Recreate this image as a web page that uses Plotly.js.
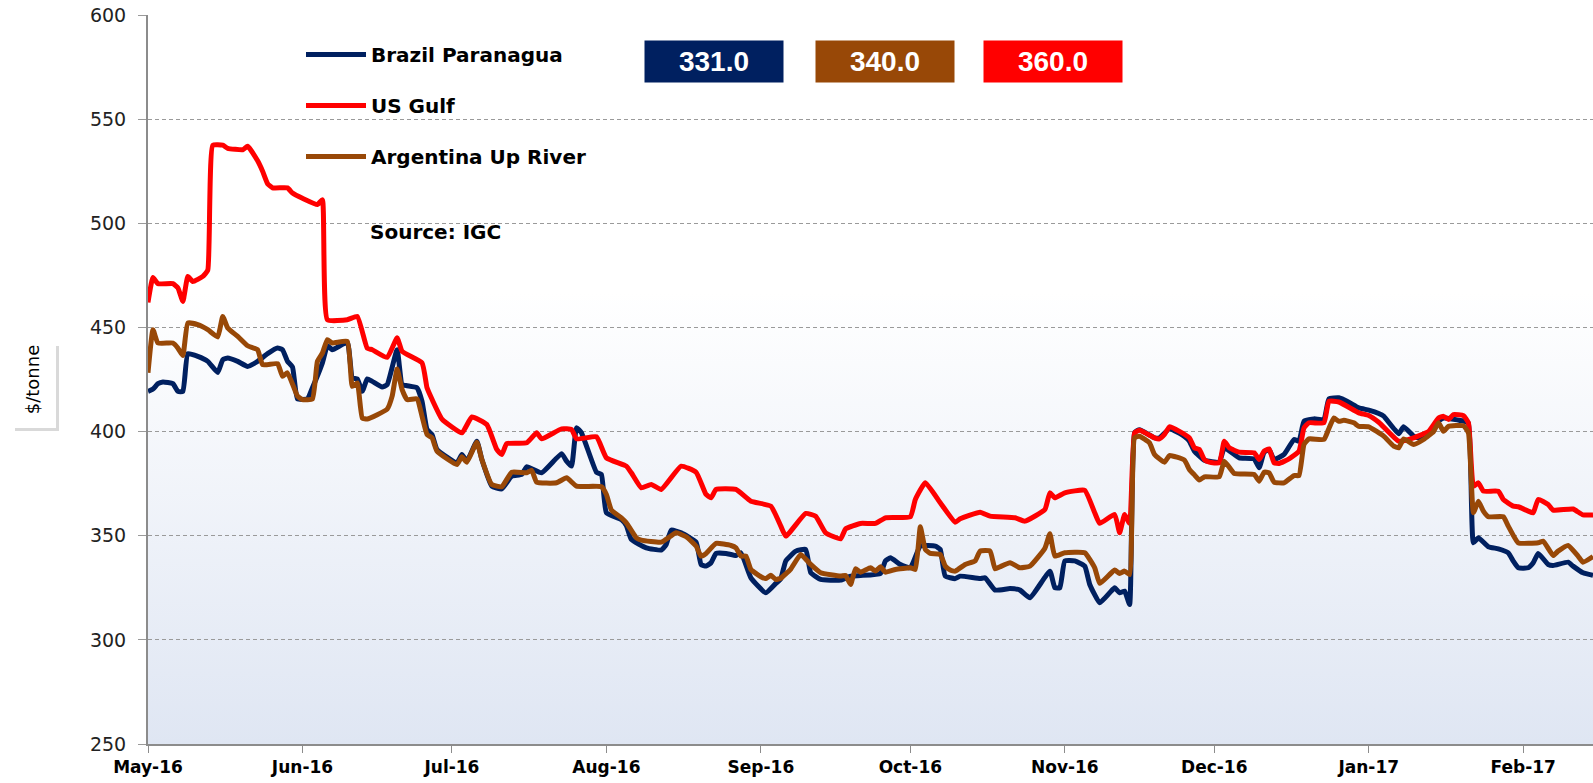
<!DOCTYPE html>
<html><head><meta charset="utf-8">
<script src="https://cdn.plot.ly/plotly-3.0.1.min.js"></script>
<style>
html,body{margin:0;padding:0;background:#fff;}
#wrap{position:relative;width:1593px;height:783px;overflow:hidden;}
#bg{position:absolute;left:148px;top:15px;width:1445px;height:729px;background:linear-gradient(to bottom,#ffffff 0%,#ffffff 38%,#dfe6f3 100%);}
#chart{position:absolute;left:0;top:0;width:1593px;height:783px;}
</style></head><body>
<div id="wrap"><div id="bg"></div><div id="chart"></div></div>
<script>
const seriesNames = ['Brazil Paranagua', 'US Gulf', 'Argentina Up River'];
const seriesColors = ['#002060', '#FF0000', '#984807'];

const brazilDates = ['2016-05-01','2016-05-02','2016-05-03','2016-05-04','2016-05-06','2016-05-07','2016-05-08','2016-05-09','2016-05-11','2016-05-13','2016-05-15','2016-05-16','2016-05-17','2016-05-19','2016-05-21','2016-05-23','2016-05-25','2016-05-27','2016-05-28','2016-05-29','2016-05-30','2016-05-31','2016-06-02','2016-06-03','2016-06-05','2016-06-06','2016-06-07','2016-06-10','2016-06-11','2016-06-12','2016-06-13','2016-06-14','2016-06-15','2016-06-17','2016-06-18','2016-06-20','2016-06-21','2016-06-22','2016-06-24','2016-06-25','2016-06-26','2016-06-27','2016-06-28','2016-07-02','2016-07-03','2016-07-04','2016-07-06','2016-07-07','2016-07-09','2016-07-11','2016-07-13','2016-07-15','2016-07-16','2016-07-19','2016-07-23','2016-07-24','2016-07-25','2016-07-26','2016-07-27','2016-07-30','2016-07-31','2016-08-01','2016-08-04','2016-08-05','2016-08-06','2016-08-09','2016-08-12','2016-08-13','2016-08-14','2016-08-16','2016-08-19','2016-08-20','2016-08-21','2016-08-22','2016-08-23','2016-08-25','2016-08-27','2016-08-28','2016-08-30','2016-09-02','2016-09-04','2016-09-05','2016-09-06','2016-09-08','2016-09-10','2016-09-11','2016-09-13','2016-09-17','2016-09-19','2016-09-21','2016-09-25','2016-09-26','2016-09-27','2016-09-29','2016-10-01','2016-10-03','2016-10-06','2016-10-07','2016-10-08','2016-10-10','2016-10-11','2016-10-15','2016-10-16','2016-10-18','2016-10-21','2016-10-23','2016-10-25','2016-10-29','2016-10-30','2016-10-31','2016-11-01','2016-11-03','2016-11-05','2016-11-06','2016-11-08','2016-11-10','2016-11-11','2016-11-12','2016-11-13','2016-11-14','2016-11-15','2016-11-16','2016-11-19','2016-11-20','2016-11-22','2016-11-25','2016-11-26','2016-11-27','2016-11-29','2016-12-02','2016-12-03','2016-12-05','2016-12-06','2016-12-09','2016-12-10','2016-12-11','2016-12-12','2016-12-13','2016-12-15','2016-12-17','2016-12-18','2016-12-19','2016-12-21','2016-12-23','2016-12-24','2016-12-26','2016-12-28','2016-12-30','2017-01-01','2017-01-03','2017-01-04','2017-01-07','2017-01-08','2017-01-10','2017-01-11','2017-01-13','2017-01-15','2017-01-16','2017-01-20','2017-01-21','2017-01-22','2017-01-23','2017-01-25','2017-01-27','2017-01-29','2017-01-30','2017-01-31','2017-02-02','2017-02-03','2017-02-04','2017-02-06','2017-02-07','2017-02-10','2017-02-11','2017-02-13','2017-02-15'];
const brazilPrices = [419.3,420.4,423,423.8,423,419.3,419.3,437.4,436.1,433.7,428.4,434.5,435.3,433.7,431.3,433.7,437.4,440.1,439.3,433.7,431,415.7,415.7,421,433,441.2,439.3,442.8,425.8,425.3,419.3,425.3,424.1,421.4,422.5,439.3,422.5,422,421,414.5,401,398.6,391.4,385,389,385.8,395.4,386.6,373.8,372.5,378.6,379.4,383.1,380.2,389.4,385.8,383.4,401.8,399.4,380.5,379.4,361,357.8,354.9,348.2,344.2,343.1,345.8,352.7,351.4,346.9,336.2,335.4,337,341.5,341.5,340.5,341.8,329.8,322.6,327.1,329.4,337.9,342.6,343.4,332.3,329,328.7,330.6,330.9,331.9,337.9,339.4,336.2,334.6,345,345,343.4,330.6,329.4,330.6,329.4,329.8,323.9,324.6,323.9,320.2,333,325,325,337.9,337.9,335.4,326.6,317.8,322.6,325,322.6,323.4,317,399.5,400.9,397,397,401.3,397.7,395.4,390.6,386.3,385.3,392.2,389,387.4,386.9,382.6,390.1,391.4,386.6,389,396.2,395.4,405,406.1,405.8,415.7,416.2,414.1,411.4,410.3,408.7,407.4,399,402.3,397.8,397,399.4,405,406.5,405,404,346.6,349,344.7,343.7,341.8,337.8,334.6,334.6,337,341.5,336.2,335.7,337.3,335.4,332.2,331];

const usGulfDates = ['2016-05-01','2016-05-02','2016-05-03','2016-05-06','2016-05-07','2016-05-08','2016-05-09','2016-05-10','2016-05-12','2016-05-13','2016-05-14','2016-05-16','2016-05-17','2016-05-20','2016-05-21','2016-05-23','2016-05-24','2016-05-25','2016-05-26','2016-05-29','2016-05-30','2016-06-01','2016-06-04','2016-06-05','2016-06-06','2016-06-10','2016-06-12','2016-06-14','2016-06-15','2016-06-18','2016-06-20','2016-06-21','2016-06-25','2016-06-26','2016-06-27','2016-06-29','2016-07-03','2016-07-05','2016-07-08','2016-07-10','2016-07-11','2016-07-12','2016-07-16','2016-07-18','2016-07-19','2016-07-23','2016-07-25','2016-07-26','2016-07-30','2016-08-01','2016-08-05','2016-08-06','2016-08-08','2016-08-10','2016-08-12','2016-08-16','2016-08-19','2016-08-21','2016-08-22','2016-08-23','2016-08-27','2016-08-30','2016-09-03','2016-09-05','2016-09-06','2016-09-10','2016-09-12','2016-09-14','2016-09-17','2016-09-18','2016-09-21','2016-09-24','2016-09-26','2016-10-01','2016-10-02','2016-10-04','2016-10-07','2016-10-10','2016-10-11','2016-10-15','2016-10-17','2016-10-22','2016-10-24','2016-10-28','2016-10-29','2016-10-30','2016-11-01','2016-11-05','2016-11-07','2016-11-08','2016-11-11','2016-11-12','2016-11-13','2016-11-14','2016-11-15','2016-11-16','2016-11-19','2016-11-20','2016-11-21','2016-11-22','2016-11-24','2016-11-26','2016-11-27','2016-11-28','2016-11-29','2016-11-30','2016-12-02','2016-12-03','2016-12-04','2016-12-06','2016-12-09','2016-12-10','2016-12-11','2016-12-12','2016-12-13','2016-12-14','2016-12-16','2016-12-18','2016-12-19','2016-12-20','2016-12-23','2016-12-24','2016-12-26','2016-12-30','2017-01-01','2017-01-03','2017-01-07','2017-01-10','2017-01-13','2017-01-15','2017-01-16','2017-01-17','2017-01-18','2017-01-20','2017-01-21','2017-01-22','2017-01-23','2017-01-24','2017-01-27','2017-01-28','2017-01-30','2017-01-31','2017-02-02','2017-02-03','2017-02-04','2017-02-06','2017-02-07','2017-02-11','2017-02-13','2017-02-15'];
const usGulfPrices = [462,474,471,471,469,462.5,474.5,472,474.5,477.5,537.5,537.5,536,535.3,537,530,525,519,517,517,514.5,512,509,511.3,453.7,453.7,455.3,440,439.3,435.6,445,438.5,433,421,415.5,406,399.4,407,403.4,391.4,389,394.2,394.6,399.4,396.5,401.3,401,396.5,397.5,387.4,383.4,380.2,373,374.6,372.2,383.4,380.5,369.8,368.2,372.2,372.2,366.6,364.2,354.6,349.8,360.7,359.4,351.4,348.5,353.3,355.9,355.9,358.6,359.1,367.4,375.4,365.8,356.5,358.1,361.3,359.4,358.6,357,362.6,370.6,368.2,370.6,371.8,361,355.9,360.2,351.4,360.2,355.9,399.4,400.6,397,396.5,398.6,402.3,400.1,397,392.2,391.4,386.6,385.3,385,395.4,392.2,390.1,389.8,386.6,390.6,391.7,385,384.7,386.9,390.6,401.8,404.2,404.2,414.5,414.2,409,407.7,404.5,395.4,397,400.1,406.5,407.3,405.8,408.2,407.7,404.2,373.8,375.4,371.4,371.4,367.4,364.2,363.9,361.8,361,367.4,365,362.3,362.8,360,360];

const argentinaDates = ['2016-05-01','2016-05-02','2016-05-03','2016-05-06','2016-05-07','2016-05-08','2016-05-09','2016-05-11','2016-05-13','2016-05-15','2016-05-16','2016-05-17','2016-05-19','2016-05-21','2016-05-23','2016-05-24','2016-05-27','2016-05-28','2016-05-29','2016-05-31','2016-06-01','2016-06-03','2016-06-04','2016-06-05','2016-06-06','2016-06-07','2016-06-10','2016-06-11','2016-06-12','2016-06-13','2016-06-14','2016-06-18','2016-06-19','2016-06-20','2016-06-21','2016-06-22','2016-06-24','2016-06-25','2016-06-26','2016-06-27','2016-06-28','2016-07-02','2016-07-03','2016-07-04','2016-07-06','2016-07-07','2016-07-09','2016-07-11','2016-07-13','2016-07-16','2016-07-17','2016-07-18','2016-07-22','2016-07-24','2016-07-26','2016-07-31','2016-08-01','2016-08-02','2016-08-04','2016-08-05','2016-08-07','2016-08-08','2016-08-12','2016-08-15','2016-08-17','2016-08-19','2016-08-20','2016-08-21','2016-08-23','2016-08-26','2016-08-27','2016-08-28','2016-08-29','2016-08-30','2016-09-01','2016-09-02','2016-09-03','2016-09-04','2016-09-05','2016-09-07','2016-09-09','2016-09-11','2016-09-13','2016-09-17','2016-09-18','2016-09-19','2016-09-20','2016-09-21','2016-09-23','2016-09-24','2016-09-25','2016-09-26','2016-09-28','2016-10-01','2016-10-02','2016-10-03','2016-10-04','2016-10-05','2016-10-07','2016-10-08','2016-10-09','2016-10-10','2016-10-12','2016-10-14','2016-10-15','2016-10-17','2016-10-18','2016-10-19','2016-10-21','2016-10-23','2016-10-25','2016-10-28','2016-10-29','2016-10-30','2016-11-01','2016-11-05','2016-11-07','2016-11-08','2016-11-11','2016-11-12','2016-11-13','2016-11-14','2016-11-15','2016-11-16','2016-11-18','2016-11-19','2016-11-21','2016-11-22','2016-11-25','2016-11-26','2016-11-27','2016-11-28','2016-11-29','2016-12-02','2016-12-03','2016-12-05','2016-12-09','2016-12-10','2016-12-11','2016-12-12','2016-12-13','2016-12-15','2016-12-17','2016-12-18','2016-12-19','2016-12-20','2016-12-23','2016-12-24','2016-12-25','2016-12-26','2016-12-27','2016-12-29','2016-12-30','2017-01-01','2017-01-04','2017-01-06','2017-01-07','2017-01-08','2017-01-10','2017-01-12','2017-01-14','2017-01-15','2017-01-16','2017-01-17','2017-01-20','2017-01-21','2017-01-22','2017-01-23','2017-01-24','2017-01-25','2017-01-28','2017-01-29','2017-01-31','2017-02-04','2017-02-05','2017-02-07','2017-02-08','2017-02-10','2017-02-12','2017-02-13','2017-02-15'];
const argentinaPrices = [428.2,448.9,442.5,442.5,440.1,436.5,452.1,451.3,448.9,445.4,455.3,449.7,445.7,441.2,439.3,432.1,432.6,426.5,428.2,417,415.3,415.7,433.7,437.7,444.1,442.5,443.3,421.7,423.4,406.5,406,410.8,417,430,420.1,415.3,415.7,407.3,398.6,397,390.6,384.2,387.9,385.3,394.9,386.6,374.6,373.5,380.5,380.2,381.4,375.7,375.4,377.8,373.8,373.5,369.8,362.3,358.6,356.2,349,347.9,346.9,351.4,349.5,345,340.2,341.5,346.3,345.3,344.2,340.2,340.2,333.8,330.3,329.4,331,329,329.6,334,341,336.2,332.2,330.6,330.9,326.6,334.1,332.5,334.6,333,335.1,332.5,333.8,334.6,333.8,354.3,343.4,341.5,341,335.4,333.5,333,336.2,337.9,342.6,342.6,334.1,335.1,337,334.6,335.4,344,351,340.2,341.8,341.8,334.6,327.1,333.5,331.9,333,331.4,397,397.8,394.6,389,385.3,388.5,386.3,381.8,379.2,376.7,378.3,378.3,385.8,379.9,379.4,376.2,380.5,380.2,375.7,375.4,378.9,378.9,393.8,396.5,396.2,401.5,406.5,404.9,405.4,404.2,402.5,402.3,397.8,393,392.2,396.5,393.8,396.2,400,404.2,400.1,402.5,402.8,399.4,361,366.6,361.8,359.1,359.1,354.6,346.6,346.6,347.4,340.5,342.6,345.3,340.2,337.3,340];

const yTickValues = [250, 300, 350, 400, 450, 500, 550, 600];
const xRange = ['2016-05-01', '2017-02-15'];
const yAxisTitle = '$/tonne';
const sourceText = 'Source: IGC';

const allDates = [brazilDates, usGulfDates, argentinaDates];
const allPrices = [brazilPrices, usGulfPrices, argentinaPrices];

const traces = seriesNames.map((name, i) => ({
  type: 'scatter', mode: 'lines', name: name,
  x: allDates[i], y: allPrices[i],
  line: {color: seriesColors[i], width: 5, shape: 'spline', smoothing: 0.4},
  legendgroup: 'g' + i,
  hoverinfo: 'skip'
}));

const W = 1593, H = 783, ML = 148, MR = 0, MT = 15, MB = 39;
const PW = W - ML - MR, PH = H - MT - MB;
const px = x => (x - ML) / PW;
const py = y => (H - MB - y) / PH;

// value boxes in the picture, left to right: Brazil, Argentina, US Gulf
const boxOrder = [0, 2, 1];
const boxCenters = [714, 884.5, 1053];
const valueAnnotations = boxOrder.map((s, k) => {
  const arr = allPrices[s];
  return {
    xref: 'paper', yref: 'paper', x: px(boxCenters[k]), y: py(61),
    xanchor: 'center', yanchor: 'middle', showarrow: false,
    text: arr[arr.length - 1].toFixed(1),
    font: {family: 'Liberation Sans, Arial, sans-serif', size: 28, color: '#ffffff', weight: 'bold'},
    bgcolor: seriesColors[s], width: 132, height: 35, borderpad: 3
  };
});

const layout = {
  width: W, height: H,
  margin: {l: ML, r: MR, t: MT, b: MB, pad: 0},
  paper_bgcolor: 'rgba(0,0,0,0)', plot_bgcolor: 'rgba(0,0,0,0)',
  showlegend: true,
  legend: {
    x: px(301), xanchor: 'left', y: py(35), yanchor: 'top',
    bgcolor: 'rgba(0,0,0,0)', borderwidth: 0,
    font: {family: 'DejaVu Sans, sans-serif', size: 20, color: '#000', weight: 'bold'},
    tracegroupgap: 22, itemwidth: 60, traceorder: 'grouped'
  },
  xaxis: {
    type: 'date', range: xRange, autorange: false,
    tick0: '2016-05-01', dtick: 'M1', tickformat: '%b-%y',
    ticks: 'outside', ticklen: 7, tickwidth: 1, tickcolor: '#8c8c8c',
    showline: true, linecolor: '#8c8c8c', linewidth: 2,
    showgrid: false, zeroline: false,
    tickfont: {family: 'DejaVu Sans, sans-serif', size: 17, color: '#000', weight: 'bold'}
  },
  yaxis: {
    range: [250, 600], autorange: false, tickvals: yTickValues,
    ticks: 'outside', ticklen: 8, tickwidth: 1, tickcolor: '#9a9a9a',
    showline: true, linecolor: '#8c8c8c', linewidth: 2,
    showgrid: true, gridcolor: '#9a9a9a', gridwidth: 1, griddash: '4px,3px',
    zeroline: false, ticklabelstandoff: 8,
    tickfont: {family: 'DejaVu Sans, sans-serif', size: 19, color: '#222'},
    title: {text: yAxisTitle, standoff: 46, font: {family: 'DejaVu Sans, sans-serif', size: 18, color: '#000'}}
  },
  shapes: [
    {type: 'rect', xref: 'paper', yref: 'paper', x0: px(286), x1: px(620), y0: py(185), y1: py(30), fillcolor: '#ffffff', line: {width: 0}, layer: 'between'},
    {type: 'rect', xref: 'paper', yref: 'paper', x0: px(345), x1: px(549), y0: py(242), y1: py(208), fillcolor: '#ffffff', line: {width: 0}, layer: 'between'},
    {type: 'rect', xref: 'paper', yref: 'paper', x0: px(15), x1: px(59), y0: py(431), y1: py(346), fillcolor: 'rgba(0,0,0,0.15)', line: {width: 0}, layer: 'below'},
    {type: 'rect', xref: 'paper', yref: 'paper', x0: px(12), x1: px(56), y0: py(428), y1: py(343), fillcolor: '#ffffff', line: {width: 0}, layer: 'below'}
  ],
  annotations: valueAnnotations.concat([
    {xref: 'paper', yref: 'paper', x: px(435), y: py(232), xanchor: 'center', yanchor: 'middle', showarrow: false,
     text: sourceText, font: {family: 'DejaVu Sans, sans-serif', size: 20, color: '#000', weight: 'bold'}}
  ])
};

Plotly.newPlot('chart', traces, layout, {staticPlot: true, displayModeBar: false});
</script>
</body></html>
